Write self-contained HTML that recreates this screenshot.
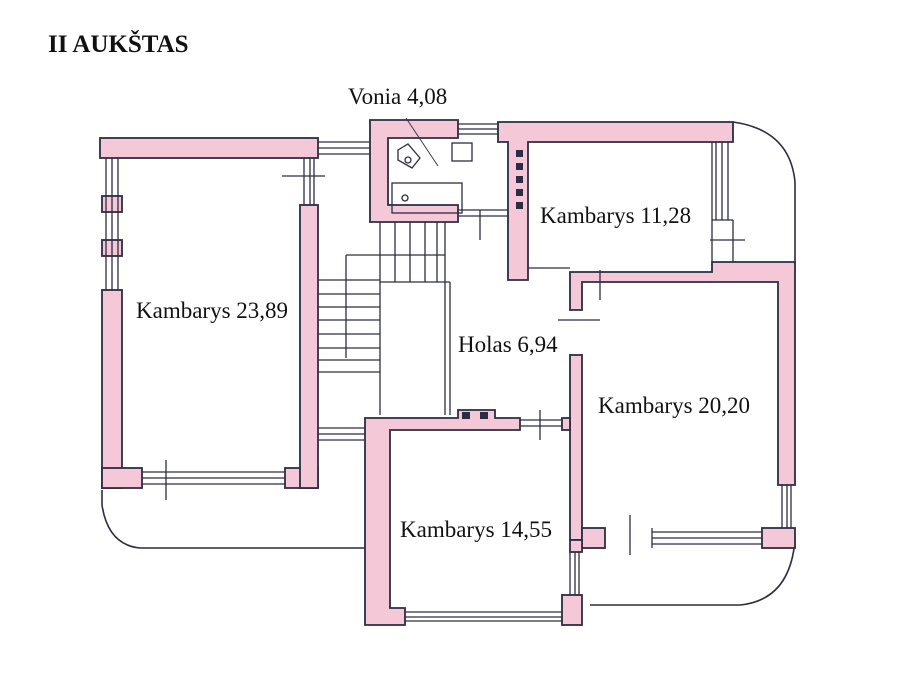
<!DOCTYPE html>
<html><head><meta charset="utf-8"><style>
html,body{margin:0;padding:0;background:#fff;}
svg{display:block}
text{font-family:"Liberation Serif",serif;fill:#111}
</style></head><body>
<svg width="900" height="694" viewBox="0 0 900 694" xmlns="http://www.w3.org/2000/svg">
<rect width="900" height="694" fill="#fff"/>
<text x="48" y="52" font-size="25" font-weight="bold">II AUKŠTAS</text>
<g stroke="#2c2c44" stroke-width="1.6" fill="none">
<path d="M102 490 L102 505 Q108 545 140 548 L366 548"/>
<path d="M733 122 Q790 130 795 182 L795 265"/>
<path d="M795 540 Q790 600 740 605 L590 605"/>
</g>
<g stroke="#2c2c44" stroke-width="1.8" fill="#f5c8d7">
<!-- left room -->
<rect x="100" y="138" width="218" height="20"/>
<rect x="102" y="196" width="20" height="16"/>
<rect x="102" y="240" width="20" height="16"/>
<rect x="102" y="290" width="20" height="198"/>
<rect x="102" y="468" width="40" height="20"/>
<rect x="285" y="468" width="33" height="20"/>
<rect x="300" y="205" width="18" height="283"/>
<!-- bath -->
<path d="M370 120 H458 V138 H388 V205 H458 V222 H370 Z"/>
<!-- room 11,28 -->
<path d="M498 122 H733 V142 H528 V280 H508 V142 H498 Z"/>
<!-- room 20,20 -->
<path d="M570 272 H712 V262 H795 V485 H778 V282 H582 V310 H570 Z"/>
<rect x="570" y="355" width="12" height="185"/>
<rect x="582" y="528" width="23" height="20"/>
<rect x="762" y="528" width="33" height="20"/>
<!-- room 14,55 -->
<path d="M365 418 H458 V410 H495 V418 H520 V430 H390 V608 H405 V625 H365 Z"/>
<rect x="562" y="418" width="8" height="12"/>
<rect x="570" y="540" width="12" height="12"/>
<rect x="562" y="595" width="20" height="30"/>
</g>
<g stroke="#2c2c44" stroke-width="1.3" fill="none">
<path d="M106 158 V290 M112 158 V290 M118 158 V290"/>
<path d="M304 158 V205 M310 158 V205 M314 158 V205"/>
<path d="M142 472 H285 M142 478 H285 M142 484 H285"/>
<path d="M318 142 H370 M318 148 H370 M318 154 H370"/>
<path d="M458 124 H498 M458 129 H498 M458 134 H498"/>
<path d="M716 142 V220 M722 142 V220 M728 142 V220 M712 220 H733 M712 142 V262 M733 220 V262"/>
<path d="M528 268 H570"/>
<path d="M782 485 V528 M787 485 V528 M791 485 V528"/>
<path d="M652 532 H762 M652 538 H762 M652 544 H762 M652 528 V548"/>
<path d="M405 612 H562 M405 617 H562 M405 621 H562"/>
<path d="M570 552 V595 M575 552 V595 M579 552 V595"/>
<path d="M318 428 H365 M318 434 H365 M318 440 H365"/>
<path d="M520 420 H562 M520 426 H562"/>
<path d="M458 210 H508 M458 216 H508"/>
<path d="M282 176 H325 M166 460 V500 M630 515 V555"/>
<path d="M540 410 V440 M558 320 H600 M600 270 V300 M480 210 V240 M710 240 H745"/>
<path d="M318 280 H380 M318 294 H380 M318 307 H380 M318 320 H380 M318 334 H380 M318 348 H380 M318 360 H380 M318 372 H380"/>
<path d="M346 255 H445 M346 255 V358 M380 222 V415 M445 222 V415 M450 282 V415 M380 282 H450"/>
<path d="M395 222 V282 M410 222 V282 M425 222 V282 M437 222 V282"/>
<rect x="392" y="183" width="70" height="30"/>
<circle cx="405" cy="198" r="3"/>
<path d="M398 150 L408 144 L420 158 L412 168 L398 160 Z"/>
<circle cx="408" cy="160" r="3"/>
<rect x="452" y="143" width="20" height="18"/>
<path d="M406 118 L438 166" stroke-width="0.9"/>
</g>
<g fill="#2c2c44">
<rect x="516" y="150" width="7" height="7"/><rect x="516" y="163" width="7" height="7"/><rect x="516" y="176" width="7" height="7"/><rect x="516" y="189" width="7" height="7"/><rect x="516" y="202" width="7" height="7"/>
<rect x="462" y="412" width="8" height="7"/><rect x="480" y="412" width="8" height="7"/>
</g>
<g font-size="23">
<text x="348" y="104">Vonia 4,08</text>
<text x="136" y="318">Kambarys 23,89</text>
<text x="540" y="223">Kambarys 11,28</text>
<text x="458" y="352">Holas 6,94</text>
<text x="598" y="413">Kambarys 20,20</text>
<text x="400" y="537">Kambarys 14,55</text>
</g>
</svg>
</body></html>
